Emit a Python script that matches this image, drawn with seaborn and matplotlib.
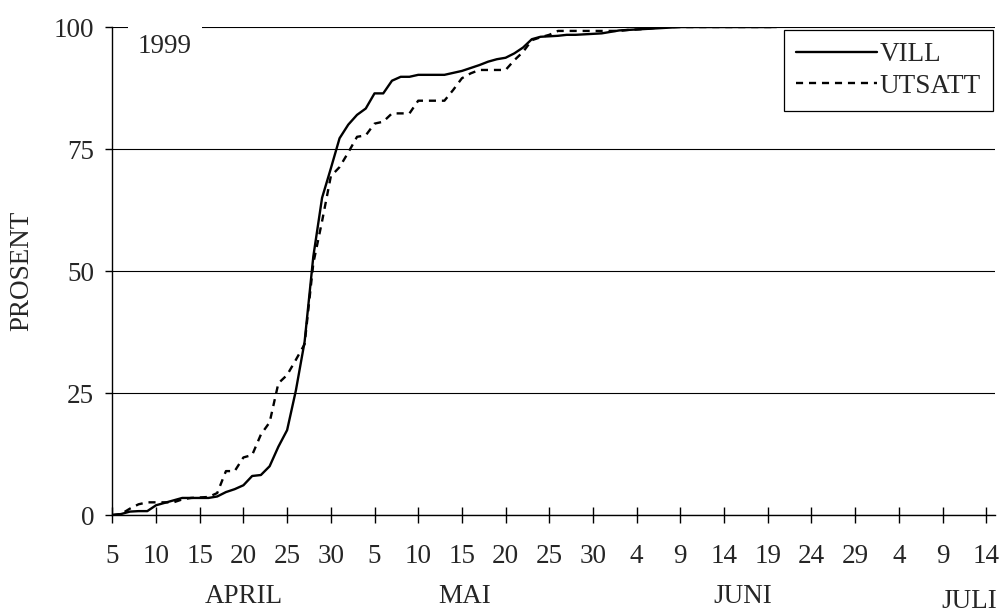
import matplotlib
matplotlib.use("Agg")
import matplotlib.pyplot as plt
import numpy as np
import pandas as pd
import seaborn as sns

sns.set_style("white")
plt.rcParams["font.family"] = ["Liberation Serif", "DejaVu Serif"]

# Dag 0 = 5. april 1999
day = list(range(77))
vill = [0, 0.2, 0.7, 0.8, 0.8, 2.0, 2.5, 3.0, 3.5, 3.5,
        3.5, 3.5, 3.8, 4.7, 5.3, 6.1, 8.0, 8.2, 10.0, 14.0,
        17.4, 25.5, 35.5, 53.0, 65.0, 71.0, 77.2, 80.0, 82.0, 83.3,
        86.4, 86.4, 89.0, 89.8, 89.8, 90.2, 90.2, 90.2, 90.2, 90.6,
        91.0, 91.6, 92.2, 92.9, 93.4, 93.7, 94.6, 95.8, 97.5, 98.0,
        98.1, 98.2, 98.4, 98.4, 98.5, 98.6, 98.7, 99.0, 99.3, 99.4,
        99.5, 99.6, 99.7, 99.8, 99.9, 100, 100, 100, 100, 100,
        100, 100, 100, 100, 100, 100, 100]
utsatt = [0, 0.2, 1.3, 2.2, 2.6, 2.6, 2.6, 2.6, 3.2, 3.5,
          3.6, 3.7, 4.5, 9.0, 9.0, 11.8, 12.3, 16.5, 19.0, 27.0,
          28.7, 31.8, 35.0, 51.6, 60.2, 69.4, 71.3, 74.3, 77.5, 77.8,
          80.2, 80.6, 82.3, 82.3, 82.3, 84.9, 84.9, 84.9, 84.9, 87.1,
          89.5, 90.5, 91.2, 91.2, 91.2, 91.2, 93.2, 94.9, 97.3, 97.9,
          98.4, 99.2, 99.2, 99.2, 99.2, 99.2, 99.2, 99.2, 99.2, 99.4,
          99.5, 99.6, 99.8, 100, 100, 100, 100, 100, 100, 100,
          100, 100, 100, 100, 100, 100, 100]

x_ticks = list(range(0, 101, 5))
x_tick_labels = ["5", "10", "15", "20", "25", "30", "5", "10", "15", "20", "25",
                 "30", "4", "9", "14", "19", "24", "29", "4", "9", "14"]
y_ticks = [0, 25, 50, 75, 100]
months = ["APRIL", "MAI", "JUNI", "JULI"]
month_pos = [15.1, 40.3, 72.1, 98.1]

df = pd.DataFrame({
    "dag": day * 2,
    "prosent": vill + utsatt,
    "serie": ["VILL"] * len(day) + ["UTSATT"] * len(day),
})

fs = 19.5
fig = plt.figure(figsize=(10.03, 6.14), dpi=100)
ax = fig.add_axes([0.112, 0.1612, 0.880, 0.7948])

sns.lineplot(data=df, x="dag", y="prosent", hue="serie", style="serie",
             palette=["black", "black"], dashes={"VILL": "", "UTSATT": (3, 2.5)},
             linewidth=1.7, ax=ax, zorder=3)

ax.set_xlim(0, 101)
ax.set_ylim(0, 100)
ax.set_xticks(x_ticks)
ax.set_xticklabels(x_tick_labels, fontsize=fs)
ax.set_yticks(y_ticks)
ax.set_yticklabels([str(v) for v in y_ticks], fontsize=fs)
ax.tick_params(axis="x", bottom=True, direction="inout", length=11.5, width=1,
               color="black", pad=15)
ax.tick_params(axis="y", left=True, direction="out", length=5, width=1,
               color="black", pad=8)
ax.set_xlabel("")
ax.set_ylabel("PROSENT", fontsize=fs)
ax.yaxis.set_label_coords(-0.088, 0.5)

ax.yaxis.grid(True, color="black", linewidth=0.8)
ax.set_axisbelow(True)
for s in ["top", "right"]:
    ax.spines[s].set_visible(False)
for s in ["left", "bottom"]:
    ax.spines[s].set_color("black")
    ax.spines[s].set_linewidth(1)

for name, pos in zip(months, month_pos):
    yy = -0.177 if name == "JULI" else -0.166
    ax.text(pos, yy, name, transform=ax.get_xaxis_transform(), ha="center",
            va="center", fontsize=fs)

ax.text(0.029, 0.96, "1999", transform=ax.transAxes, ha="left", va="center", fontsize=fs,
        bbox=dict(facecolor="white", edgecolor="none", pad=7), zorder=4)

handles, labels = ax.get_legend_handles_labels()
leg = ax.legend(handles, labels, loc="upper right", bbox_to_anchor=(0.998, 0.994),
                borderaxespad=0, fontsize=fs, frameon=True, fancybox=False,
                handlelength=3.0, handletextpad=0.1, labelspacing=0.25,
                borderpad=0.45)
leg.get_frame().set_edgecolor("black")
leg.get_frame().set_linewidth(0.9)
leg.get_frame().set_alpha(1)

plt.savefig("out.png", dpi=100)
